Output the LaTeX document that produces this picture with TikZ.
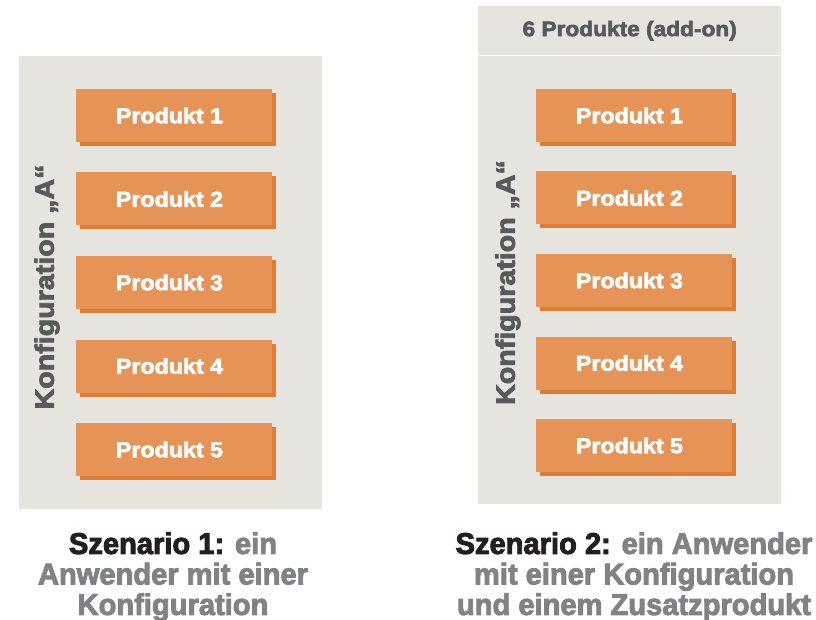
\documentclass[tikz,border=0pt]{standalone}
\usepackage{fontspec}
\setmainfont{Liberation Sans}
\newfontfamily\widefont[FakeStretch=1.08, FakeBold=3]{Liberation Sans}
\newfontfamily\tallfont[FakeStretch=0.97, FakeBold=3]{Liberation Sans}
\usepackage{xcolor}
\usetikzlibrary{shadows}

\definecolor{panelgrey}{HTML}{E5E4DE}
\definecolor{prodorange}{HTML}{E69358}
\definecolor{prodshadow}{HTML}{E07B32}
\definecolor{labelgrey}{HTML}{58595B}
\definecolor{captiongrey}{HTML}{808285}
\definecolor{captionblack}{HTML}{231F20}

\tikzset{
	panel/.style={fill=panelgrey, inner sep=0, anchor=north west},
	produkt/.style={fill=prodorange, minimum width=196pt, minimum height=53pt,
		inner sep=0, text=white, font=\widefont\bfseries\fontsize{21.5}{24}\selectfont,
		drop shadow={shadow xshift=4pt, shadow yshift=-4pt, fill=prodshadow, opacity=1}},
	konfig/.style={rotate=90, inner sep=0, text=labelgrey,
		font=\widefont\bfseries\fontsize{26.5}{30}\selectfont},
	szenario/.style={align=center, anchor=north, inner sep=0, text=captiongrey,
		font=\tallfont\bfseries\fontsize{30}{30.5}\selectfont}
}

\begin{document}
\begin{tikzpicture}[x=1pt,y=-1pt]

\useasboundingbox (0,0) rectangle (816,620);

% Szenario 1
\node[panel, minimum width=303pt, minimum height=453pt] (pa) at (19,56) {};
\foreach \i in {1,...,5} %A1-A5
	\node[produkt] (a\i) at (174,{115.5+83.5*(\i-1)}) {Produkt \i\kern9pt};
\node[konfig] (ka) at (47,287) {Konfiguration „A“};

% Szenario 2
\node[panel, minimum width=303pt, minimum height=49pt] (hb) at (478,6) {};
\node[panel, minimum width=303pt, minimum height=448pt] (pb) at (478,56) {};
\draw[white, line width=1pt] (hb.south west) -- (hb.south east);
\node[text=labelgrey, font=\widefont\bfseries\fontsize{21}{24}\selectfont] (add) at (hb.center) {6 Produkte (add-on)};
\foreach \i in {1,...,5} %B1-B5
	\node[produkt] (b\i) at (634,{115.5+82.5*(\i-1)}) {Produkt \i\kern9pt};
\node[konfig] (kb) at (508,282.5) {Konfiguration „A“};

\node[szenario] (sa) at (173,532) {{\color{captionblack}Szenario 1:} ein\\Anwender mit einer\\Konfiguration};
\node[szenario] (sb) at (634,532) {{\color{captionblack}Szenario 2:} ein Anwender\\mit einer Konfiguration\\und einem Zusatzprodukt};

\end{tikzpicture}
\end{document}
